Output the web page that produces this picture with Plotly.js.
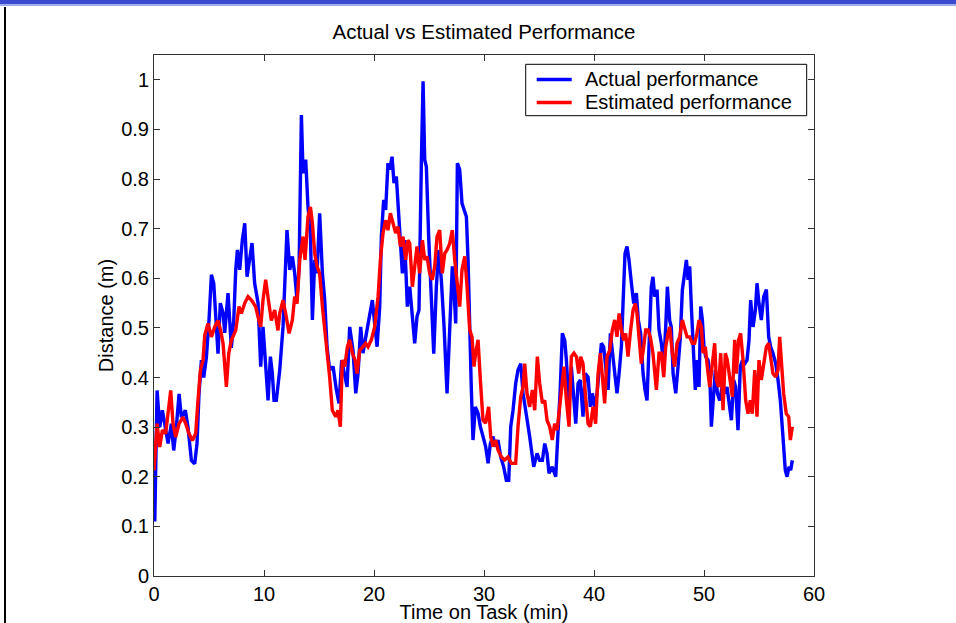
<!DOCTYPE html>
<html>
<head>
<meta charset="utf-8">
<script src="https://cdn.plot.ly/plotly-3.0.1.min.js"></script>
<style>
  html, body { margin: 0; padding: 0; background: #fff; }
  #wrap { position: relative; width: 956px; height: 623px; overflow: hidden; }
  #chart { position: absolute; left: 0; top: 0; width: 956px; height: 623px; }
  #bandDark { position: absolute; left: 0; top: 0; width: 956px; height: 4px; background: #3a4bd2; pointer-events: none; }
  #bandLight { position: absolute; left: 0; top: 4px; width: 956px; height: 2px; background: #a3abe9; pointer-events: none; }
  #leftLine { position: absolute; left: 4px; top: 7px; width: 2px; height: 616px; background: #000; pointer-events: none; }
</style>
</head>
<body>
<div id="wrap">
  <div id="chart"></div>
  <div id="bandDark"></div>
  <div id="bandLight"></div>
  <div id="leftLine"></div>
</div>
<script>
// ---- Data ----
const actualTime = [0, 0.07, 0.28, 0.52, 0.76, 1.28, 1.58, 1.79, 2.03, 2.28, 2.49, 2.85, 3.09, 3.40, 3.70, 3.91, 4.09, 4.31, 4.52, 4.76, 5.00, 5.22, 5.43, 5.61, 5.82, 6.03, 6.28, 6.43, 6.73, 7.03, 7.25, 7.43, 7.58, 7.79, 8.03, 8.25, 8.46, 8.91, 9.15, 9.46, 9.70, 9.91, 10.15, 10.37, 10.58, 10.76, 10.91, 11.12,
  11.43, 11.73, 12.09, 12.34, 12.58, 12.79, 13.0, 13.19, 13.40, 13.55, 13.79, 14.0, 14.22, 14.4, 14.61, 14.82, 15.06, 15.31, 15.52, 15.73, 15.97, 16.28, 16.58, 16.82, 17.06, 17.34, 17.55, 17.79, 18.09, 18.34, 18.55, 18.79, 19.0, 19.31, 19.61, 19.85, 20.06, 20.28, 20.52, 20.67, 20.88, 21.06, 21.27, 21.43, 21.64, 21.82, 22.03, 22.18, 22.4, 22.58, 22.79, 23.03,
  23.25, 23.49, 23.70, 23.91, 24.09, 24.31, 24.46, 24.61, 24.76, 24.97, 25.15, 25.43, 25.67, 25.88, 26.12, 26.37, 26.64, 26.82, 26.97, 27.12, 27.28, 27.43, 27.58, 27.79, 28.00, 28.19, 28.40, 28.55, 28.70, 28.85, 29.0, 29.21, 29.46, 29.67, 29.91, 30.15, 30.37, 30.58, 30.82, 31.06, 31.27, 31.52, 31.79, 32.03, 32.25, 32.43, 32.64, 32.88, 33.09, 33.34, 33.55, 33.85, 34.15, 34.52, 34.82,
  35.06, 35.31, 35.52, 35.73, 35.91, 36.21, 36.52, 36.73, 36.94, 37.12, 37.34, 37.49, 37.73, 37.94, 38.15, 38.34, 38.55, 38.76, 39.00, 39.21, 39.46, 39.67, 39.85, 40.06, 40.28, 40.46, 40.67, 40.88, 41.06, 41.28, 41.49, 41.67, 41.88, 42.09, 42.28, 42.49, 42.64, 42.82, 43.00, 43.18, 43.40, 43.61, 43.85, 44.03, 44.24, 44.46, 44.64, 44.82, 45.00, 45.21, 45.36, 45.52, 45.73, 45.91, 46.12, 46.34, 46.52, 46.67,
  46.88, 47.03, 47.19, 47.43, 47.64, 47.85, 48.03, 48.24, 48.40, 48.55, 48.70, 48.85, 49.0, 49.21, 49.40, 49.55, 49.70, 49.85, 50.0, 50.15, 50.37, 50.52, 50.67, 50.82, 51.03, 51.22, 51.43, 51.64, 51.88, 52.09, 52.27, 52.49, 52.70, 52.88, 53.09, 53.30, 53.49, 53.70, 53.91, 54.09, 54.24, 54.46, 54.67, 54.82, 55.0, 55.21, 55.43, 55.67, 55.88, 56.06, 56.27, 56.52, 56.73, 56.94, 57.18, 57.39, 57.55, 57.73, 57.88, 58.03];

const actualDistance = [0.20, 0.11, 0.374, 0.30, 0.334, 0.267, 0.307, 0.253, 0.30, 0.367, 0.32, 0.334, 0.30, 0.233, 0.226, 0.267, 0.367, 0.435, 0.40, 0.44, 0.515, 0.607, 0.59, 0.522, 0.448, 0.55, 0.53, 0.49, 0.57, 0.46, 0.515, 0.617, 0.657, 0.617, 0.677, 0.711, 0.603, 0.671, 0.59, 0.55, 0.422, 0.502, 0.435, 0.354, 0.442, 0.408, 0.354, 0.354,
  0.415, 0.502, 0.697, 0.617, 0.644, 0.61, 0.556, 0.623, 0.929, 0.812, 0.839, 0.744, 0.691, 0.516, 0.637, 0.61, 0.731, 0.61, 0.556, 0.462, 0.415, 0.422, 0.375, 0.348, 0.435, 0.401, 0.381, 0.502, 0.455, 0.368, 0.408, 0.502, 0.449, 0.489, 0.529, 0.556, 0.509, 0.462, 0.543, 0.684, 0.758, 0.738, 0.832, 0.819, 0.845, 0.792, 0.805, 0.758, 0.684, 0.61, 0.677, 0.543,
  0.583, 0.529, 0.469, 0.523, 0.536, 0.839, 0.997, 0.839, 0.825, 0.684, 0.597, 0.448, 0.583, 0.657, 0.597, 0.502, 0.368, 0.476, 0.570, 0.624, 0.570, 0.509, 0.832, 0.819, 0.751, 0.738, 0.724, 0.637, 0.469, 0.375, 0.274, 0.341, 0.328, 0.301, 0.281, 0.261, 0.227, 0.267, 0.281, 0.261, 0.274, 0.240, 0.220, 0.193, 0.193, 0.301, 0.334, 0.388, 0.415, 0.428, 0.368, 0.328, 0.281, 0.220, 0.247,
  0.233, 0.233, 0.267, 0.247, 0.207, 0.220, 0.200, 0.287, 0.381, 0.489, 0.475, 0.435, 0.341, 0.422, 0.354, 0.307, 0.388, 0.395, 0.321, 0.408, 0.401, 0.341, 0.368, 0.341, 0.368, 0.408, 0.469, 0.462, 0.422, 0.375, 0.489, 0.455, 0.408, 0.368, 0.408, 0.462, 0.549, 0.650, 0.664, 0.637, 0.590, 0.549, 0.570, 0.516, 0.489, 0.408, 0.375, 0.354, 0.462, 0.583, 0.603, 0.563, 0.577, 0.496, 0.469, 0.428, 0.502, 0.583,
  0.515, 0.502, 0.408, 0.368, 0.422, 0.482, 0.576, 0.617, 0.637, 0.597, 0.624, 0.543, 0.469, 0.375, 0.435, 0.381, 0.543, 0.516, 0.462, 0.442, 0.435, 0.408, 0.301, 0.354, 0.415, 0.368, 0.354, 0.381, 0.368, 0.381, 0.347, 0.314, 0.395, 0.381, 0.294, 0.422, 0.435, 0.428, 0.435, 0.475, 0.556, 0.502, 0.536, 0.590, 0.549, 0.516, 0.563, 0.577, 0.482, 0.462, 0.449, 0.428, 0.395, 0.354, 0.280, 0.213, 0.200, 0.220, 0.213, 0.233];

const estimatedTime = [0, 0.28, 0.52, 0.76, 1.06, 1.28, 1.52, 1.73, 1.97, 2.28, 2.64, 2.88, 3.18, 3.49, 3.79, 4.00, 4.22, 4.46, 4.61, 4.91, 5.22, 5.52, 5.82, 6.06, 6.28, 6.58, 6.79, 7.03, 7.43, 7.73, 7.94, 8.25, 8.55, 8.85, 9.24, 9.46, 9.70, 9.91, 10.15, 10.40, 10.67, 10.97, 11.27,
  11.43, 11.73, 11.97, 12.28, 12.58, 12.79, 13.0, 13.25, 13.55, 13.73, 14.0, 14.22, 14.4, 14.61, 14.82, 15.06, 15.31, 15.52, 15.73, 15.97, 16.21, 16.52, 16.73, 16.94, 17.12, 17.34, 17.58, 17.79, 18.03, 18.28, 18.46, 18.70, 19.0, 19.24, 19.46, 19.76, 20.06, 20.37, 20.58, 20.82, 21.06, 21.27, 21.49, 21.73, 21.97, 22.18, 22.40, 22.64, 22.88, 23.09,
  23.25, 23.49, 23.70, 23.91, 24.15, 24.40, 24.61, 24.82, 25.06, 25.30, 25.52, 25.73, 25.97, 26.21, 26.43, 26.64, 26.88, 27.12, 27.34, 27.55, 27.79, 28.00, 28.25, 28.46, 28.70, 28.91, 29.09, 29.24, 29.46, 29.67, 29.91, 30.15, 30.42, 30.61, 30.82, 31.06, 31.27, 31.58, 31.88, 32.18, 32.49, 32.88, 33.09, 33.34, 33.55, 33.70, 33.91, 34.15, 34.40, 34.61, 34.85,
  35.06, 35.31, 35.52, 35.73, 35.97, 36.21, 36.42, 36.64, 36.88, 37.12, 37.27, 37.49, 37.73, 37.94, 38.18, 38.40, 38.61, 38.79, 39.00, 39.21, 39.46, 39.67, 39.91, 40.15, 40.37, 40.58, 40.76, 40.97, 41.18, 41.43, 41.67, 41.88, 42.09, 42.28, 42.49, 42.70, 42.88, 43.09, 43.30, 43.55, 43.76, 43.91, 44.09, 44.30, 44.52, 44.70, 44.91, 45.12, 45.36, 45.52, 45.67, 45.91, 46.12, 46.34, 46.52, 46.73,
  46.88, 47.12, 47.33, 47.55, 47.79, 48.03, 48.24, 48.46, 48.70, 48.94, 49.15, 49.36, 49.55, 49.76, 49.91, 50.12, 50.30, 50.52, 50.73, 50.97, 51.12, 51.33, 51.52, 51.73, 51.94, 52.12, 52.33, 52.58, 52.79, 52.94, 53.15, 53.33, 53.55, 53.79, 54.0, 54.21, 54.39, 54.61, 54.82, 55.0, 55.21, 55.43, 55.67, 55.88, 56.06, 56.27, 56.52, 56.73, 56.88, 57.03, 57.24, 57.48, 57.70, 57.85, 58.03];

const estimatedDistance = [0.213, 0.307, 0.26, 0.294, 0.287, 0.327, 0.374, 0.307, 0.28, 0.307, 0.32, 0.307, 0.287, 0.273, 0.287, 0.354, 0.415, 0.435, 0.485, 0.509, 0.482, 0.502, 0.515, 0.495, 0.468, 0.381, 0.448, 0.475, 0.495, 0.543, 0.529, 0.55, 0.563, 0.556, 0.543, 0.522, 0.502, 0.556, 0.597, 0.556, 0.515, 0.536, 0.495,
  0.529, 0.556, 0.529, 0.489, 0.516, 0.563, 0.549, 0.637, 0.684, 0.637, 0.724, 0.744, 0.711, 0.650, 0.624, 0.61, 0.543, 0.502, 0.462, 0.401, 0.334, 0.321, 0.334, 0.301, 0.435, 0.422, 0.462, 0.476, 0.449, 0.435, 0.408, 0.455, 0.462, 0.469, 0.462, 0.476, 0.502, 0.563, 0.637, 0.691, 0.717, 0.697, 0.731, 0.711, 0.691, 0.704, 0.664, 0.684, 0.637, 0.677,
  0.670, 0.583, 0.624, 0.664, 0.610, 0.677, 0.637, 0.644, 0.610, 0.597, 0.624, 0.684, 0.697, 0.610, 0.650, 0.657, 0.670, 0.697, 0.637, 0.597, 0.543, 0.617, 0.644, 0.583, 0.496, 0.482, 0.422, 0.449, 0.476, 0.395, 0.314, 0.308, 0.341, 0.281, 0.261, 0.274, 0.254, 0.240, 0.234, 0.240, 0.227, 0.227, 0.301, 0.361, 0.381, 0.428, 0.368, 0.341, 0.375, 0.334, 0.442,
  0.388, 0.348, 0.354, 0.314, 0.301, 0.274, 0.307, 0.294, 0.341, 0.401, 0.422, 0.354, 0.301, 0.442, 0.449, 0.442, 0.408, 0.442, 0.428, 0.368, 0.307, 0.301, 0.341, 0.307, 0.408, 0.449, 0.401, 0.348, 0.442, 0.455, 0.496, 0.516, 0.482, 0.529, 0.496, 0.475, 0.489, 0.442, 0.489, 0.536, 0.549, 0.529, 0.482, 0.428, 0.462, 0.496, 0.496, 0.482, 0.449, 0.415, 0.375, 0.449, 0.449, 0.401, 0.462, 0.489,
  0.502, 0.449, 0.422, 0.469, 0.482, 0.516, 0.496, 0.482, 0.482, 0.469, 0.469, 0.489, 0.516, 0.502, 0.449, 0.462, 0.422, 0.381, 0.422, 0.469, 0.395, 0.381, 0.449, 0.334, 0.449, 0.435, 0.401, 0.361, 0.476, 0.408, 0.476, 0.489, 0.435, 0.354, 0.327, 0.354, 0.327, 0.415, 0.321, 0.435, 0.395, 0.428, 0.462, 0.469, 0.435, 0.408, 0.401, 0.415, 0.482, 0.435, 0.368, 0.327, 0.321, 0.274, 0.301];

const seriesNames = ["Actual performance", "Estimated performance"];
const seriesColors = ["#0000ff", "#ff0000"];
const chartTitle = "Actual vs Estimated Performance";
const xTitle = "Time on Task (min)";
const yTitle = "Distance (m)";
const xTicks = [0, 10, 20, 30, 40, 50, 60];
const yTicks = [0, 0.1, 0.2, 0.3, 0.4, 0.5, 0.6, 0.7, 0.8, 0.9, 1];
const yTickText = ["0", "0.1", "0.2", "0.3", "0.4", "0.5", "0.6", "0.7", "0.8", "0.9", "1"];

// ---- Chart ----
const FONT = '"Liberation Sans", Arial, Helvetica, sans-serif';
const W = 956, H = 623;
const M = { l: 154, r: 142, t: 55, b: 47 };
const PW = W - M.l - M.r, PH = H - M.t - M.b;
const px2x = p => (p - M.l) / PW;      // page x pixel -> paper x
const px2y = p => (H - M.b - p) / PH;  // page y pixel -> paper y

const traces = [
  { x: actualTime, y: actualDistance, name: seriesNames[0], type: 'scatter', mode: 'lines',
    line: { color: seriesColors[0], width: 3.4 } },
  { x: estimatedTime, y: estimatedDistance, name: seriesNames[1], type: 'scatter', mode: 'lines',
    line: { color: seriesColors[1], width: 3.4 } }
];

const axisCommon = {
  showgrid: false, zeroline: false, showline: true, linecolor: '#333', linewidth: 1,
  mirror: 'ticks', ticks: 'inside', ticklen: 6, tickwidth: 1, tickcolor: '#333',
  tickfont: { family: FONT, size: 20, color: '#000' }, automargin: false
};

// Legend box (MATLAB-style), built from the series names and colours
const legBox = { x0: 525.7, x1: 806.7, y0: 64.3, y1: 115.7 };
const legRows = [79.5, 102.5];
const shapes = [
  { type: 'rect', xref: 'paper', yref: 'paper', x0: px2x(legBox.x0), x1: px2x(legBox.x1),
    y0: px2y(legBox.y1), y1: px2y(legBox.y0), fillcolor: '#fff', line: { color: '#000', width: 1 }, layer: 'above' }
];
const annotations = [];
seriesNames.forEach((nm, i) => {
  shapes.push({ type: 'line', xref: 'paper', yref: 'paper', x0: px2x(536.7), x1: px2x(571.7),
    y0: px2y(legRows[i]), y1: px2y(legRows[i]), line: { color: seriesColors[i], width: 3.4 }, layer: 'above' });
  annotations.push({ xref: 'paper', yref: 'paper', x: px2x(583), y: px2y(legRows[i]), xanchor: 'left', yanchor: 'middle',
    text: nm, showarrow: false, font: { family: FONT, size: 20, color: '#000' } });
});

const layout = {
  width: W, height: H,
  paper_bgcolor: '#fff', plot_bgcolor: '#fff',
  margin: { l: M.l, r: M.r, t: M.t, b: M.b, pad: 0 },
  font: { family: FONT, size: 20, color: '#000' },
  title: { text: chartTitle, x: 0.5, xref: 'paper', xanchor: 'center', y: 1 - 32 / H, yanchor: 'middle',
    font: { family: FONT, size: 20.5, color: '#000' } },
  xaxis: Object.assign({}, axisCommon, {
    range: [0, 60], tickvals: xTicks, ticktext: xTicks.map(String),
    title: { text: xTitle, font: { family: FONT, size: 20, color: '#000' }, standoff: 7 }
  }),
  yaxis: Object.assign({}, axisCommon, {
    range: [0, 1.05], tickvals: yTicks, ticktext: yTickText,
    title: { text: yTitle, font: { family: FONT, size: 20, color: '#000' }, standoff: 2 }
  }),
  showlegend: false,
  shapes: shapes,
  annotations: annotations
};

Plotly.newPlot('chart', traces, layout, { staticPlot: true, displayModeBar: false });
</script>
</body>
</html>
